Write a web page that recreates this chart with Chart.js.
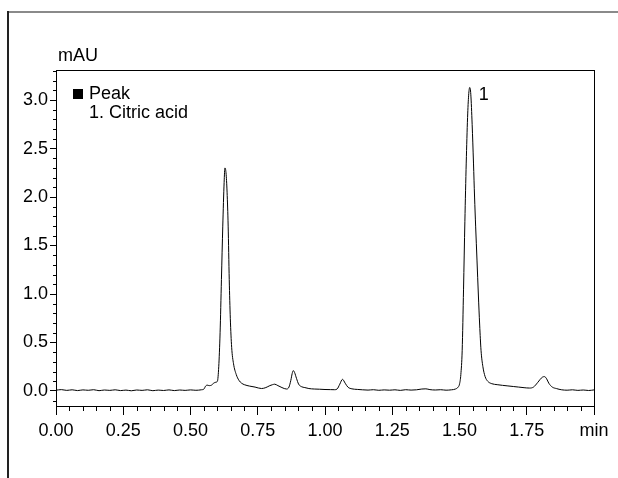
<!DOCTYPE html>
<html>
<head>
<meta charset="utf-8">
<script src="https://cdn.jsdelivr.net/npm/chart.js@4.4.1/dist/chart.umd.min.js"></script>
<style>
  html, body { margin: 0; padding: 0; background: #fff; }
  #wrap { position: relative; width: 618px; height: 478px; }
</style>
</head>
<body>
<div id="wrap"><canvas id="c" width="618" height="478"></canvas></div>
<script>
// ---- data ----
const timeMin = [
  0.00,0.02,0.04,0.06,0.08,0.10,0.12,0.14,0.16,0.18,0.20,0.22,0.24,0.26,0.28,0.30,0.32,0.34,0.36,0.38,
  0.40,0.42,0.44,0.46,0.48,0.50,0.52,0.54,
  0.55,0.556,0.562,0.57,0.578,0.586,0.594,0.600,0.605,0.61,0.615,0.62,0.625,0.628,0.632,0.636,0.64,
  0.644,0.648,0.653,0.66,0.67,0.68,0.69,0.70,0.72,0.74,0.764,0.78,0.795,0.805,0.813,0.825,0.84,0.857,
  0.866,0.873,0.878,0.882,0.887,0.894,0.902,0.912,0.925,0.94,0.96,0.98,1.00,1.02,1.035,1.045,1.055,
  1.065,1.075,1.085,1.10,1.12,1.14,1.16,1.18,1.20,1.22,1.24,1.26,1.28,1.30,1.32,1.34,1.36,1.375,1.39,
  1.41,1.43,1.45,1.47,1.485,1.495,1.50,1.505,1.51,1.515,1.52,1.525,1.53,1.534,1.538,1.542,1.547,1.552,
  1.556,1.56,1.565,1.57,1.575,1.58,1.587,1.595,1.605,1.62,1.64,1.66,1.68,1.70,1.72,1.74,1.76,1.775,
  1.79,1.80,1.808,1.816,1.824,1.832,1.845,1.86,1.88,1.90,1.92,1.94,1.96,1.98,2.00
];
const signalMAU = [
  0.008,0.014,0.006,0.012,0.004,0.011,0.007,0.013,0.003,0.010,0.006,0.012,0.004,0.009,0.002,0.010,0.006,0.012,0.003,0.009,
  0.005,0.011,0.004,0.010,0.006,0.011,0.007,0.012,
  0.02,0.05,0.06,0.055,0.06,0.08,0.09,0.10,0.25,0.60,1.15,1.70,2.15,2.30,2.25,2.05,1.70,
  1.15,0.75,0.45,0.28,0.17,0.11,0.08,0.065,0.05,0.04,0.025,0.035,0.055,0.065,0.07,0.055,0.035,0.02,
  0.04,0.11,0.18,0.21,0.19,0.13,0.07,0.045,0.035,0.025,0.02,0.018,0.015,0.014,0.013,0.02,0.07,
  0.12,0.08,0.04,0.022,0.016,0.012,0.009,0.013,0.007,0.011,0.008,0.012,0.006,0.013,0.009,0.012,0.02,0.022,0.014,
  0.01,0.013,0.008,0.012,0.02,0.04,0.07,0.17,0.42,1.05,1.75,2.35,2.82,3.05,3.13,3.06,2.75,2.35,
  2.00,1.70,1.35,1.00,0.68,0.42,0.25,0.15,0.10,0.075,0.065,0.058,0.052,0.046,0.04,0.034,0.03,0.04,
  0.085,0.12,0.142,0.148,0.125,0.08,0.04,0.025,0.012,0.008,0.012,0.006,0.010,0.005,0.011
];
const xTickValues = [0, 0.25, 0.5, 0.75, 1.0, 1.25, 1.5, 1.75, 2.0];
const yTickValues = [0, 0.5, 1.0, 1.5, 2.0, 2.5, 3.0];
const peakLabels = [{ t: 1.538, v: 3.13, text: '1' }];
const legendTitle = 'Peak';
const legendItems = ['1. Citric acid'];
const yUnit = 'mAU';
const xUnit = 'min';

const FAMILY = '"Liberation Sans", Arial, sans-serif';
const FSIZE = 18;
const FONT = FSIZE + 'px ' + FAMILY;

const decor = {
  id: 'decor',
  beforeDraw(chart) {
    const ctx = chart.ctx;
    ctx.save();
    ctx.fillStyle = '#8a8a8a';
    ctx.fillRect(8, 11, 610, 2);
    ctx.fillStyle = '#222';
    ctx.fillRect(7, 11, 2, 467);
    ctx.restore();
  },
  afterDraw(chart) {
    const ctx = chart.ctx;
    const a = chart.chartArea;
    const xs = chart.scales.x, ys = chart.scales.y;
    ctx.save();
    ctx.strokeStyle = '#000';
    ctx.lineWidth = 1;
    ctx.strokeRect(Math.round(a.left) + 0.5, Math.round(a.top) + 0.5,
                   Math.round(a.right - a.left), Math.round(a.bottom - a.top));
    ctx.beginPath();
    for (let i = 0; i <= 40; i++) {
      if (i % 5 === 0) continue;
      const px = Math.round(xs.getPixelForValue(i * 0.05)) + 0.5;
      ctx.moveTo(px, a.bottom);
      ctx.lineTo(px, a.bottom + 5);
    }
    for (let i = -1; i <= 33; i++) {
      if (i % 5 === 0) continue;
      const py = Math.round(ys.getPixelForValue(i * 0.1)) + 0.5;
      ctx.moveTo(a.left, py);
      ctx.lineTo(a.left - 3, py);
    }
    ctx.stroke();
    ctx.fillStyle = '#000';
    ctx.font = FONT;
    ctx.textBaseline = 'middle';
    ctx.textAlign = 'left';
    ctx.fillText(yUnit, 58, 56);
    ctx.fillRect(73, 89, 10, 10);
    ctx.fillText(legendTitle, 89, 94);
    legendItems.forEach((s, i) => ctx.fillText(s, 89, 113 + i * 19));
    peakLabels.forEach(p => {
      ctx.fillText(p.text, xs.getPixelForValue(p.t) + 9, ys.getPixelForValue(p.v) + 8);
    });
    ctx.restore();
  }
};

new Chart(document.getElementById('c'), {
  type: 'line',
  data: {
    datasets: [{
      data: timeMin.map((t, i) => ({ x: t, y: signalMAU[i] })),
      borderColor: '#000',
      borderWidth: 1,
      pointRadius: 0,
      fill: false,
      cubicInterpolationMode: 'monotone'
    }]
  },
  options: {
    responsive: false,
    animation: false,
    events: [],
    layout: { padding: { top: 70, right: 24, left: 0, bottom: 0 } },
    plugins: { legend: { display: false }, tooltip: { enabled: false } },
    scales: {
      x: {
        type: 'linear', min: 0, max: 2,
        afterBuildTicks: s => { s.ticks = xTickValues.map(v => ({ value: v })); },
        afterFit: s => { s.height = 72; },
        ticks: {
          autoSkip: false, maxRotation: 0, color: '#000', padding: 5,
          font: { family: FAMILY, size: FSIZE },
          callback: v => (Math.abs(v - 2) < 1e-9 ? xUnit : v.toFixed(2))
        },
        grid: { drawOnChartArea: false, drawTicks: true, tickLength: 9, color: '#000' },
        border: { color: '#000', width: 1 }
      },
      y: {
        type: 'linear', min: -0.155, max: 3.31,
        afterBuildTicks: s => { s.ticks = yTickValues.map(v => ({ value: v })); },
        afterFit: s => { s.width = 56; },
        ticks: {
          autoSkip: false, color: '#000', padding: 2,
          font: { family: FAMILY, size: FSIZE },
          callback: v => v.toFixed(1)
        },
        grid: { drawOnChartArea: false, drawTicks: true, tickLength: 6, color: '#000' },
        border: { color: '#000', width: 1 }
      }
    }
  },
  plugins: [decor]
});
</script>
</body>
</html>
